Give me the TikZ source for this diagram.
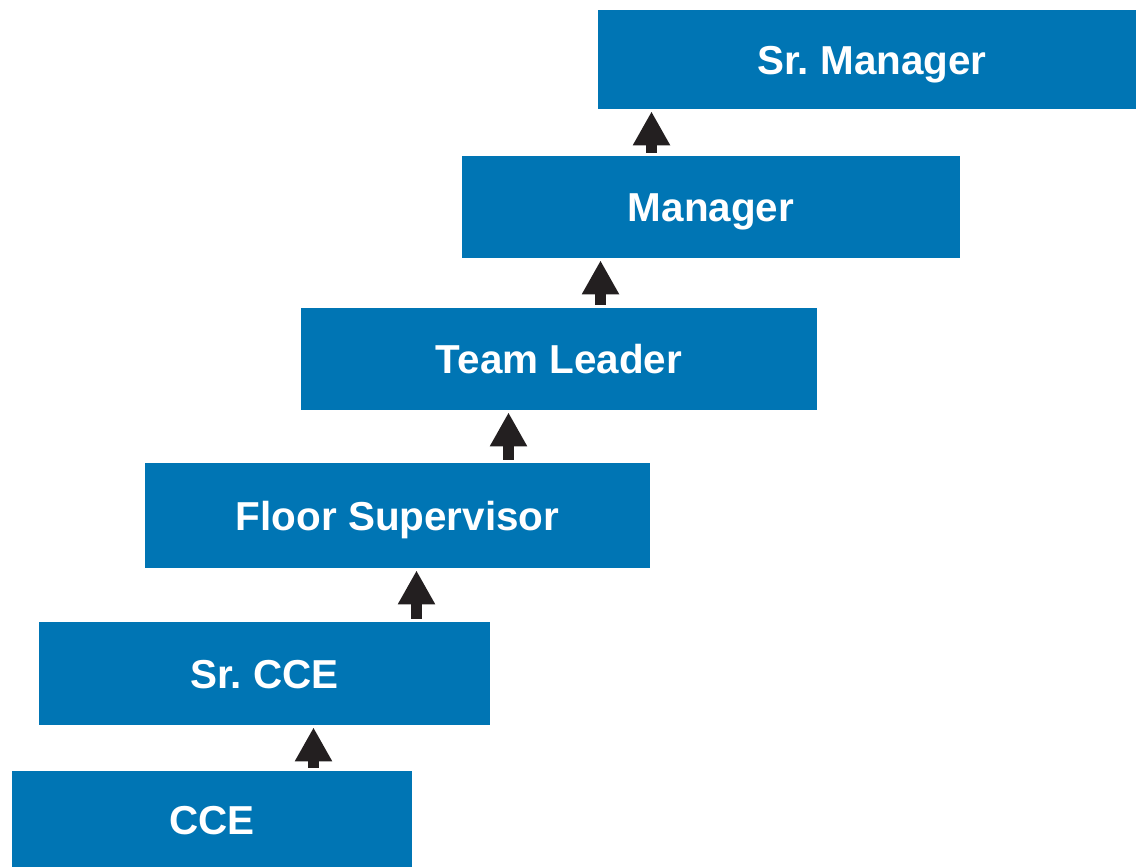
\documentclass[tikz,border=0pt]{standalone}
\usepackage{fontspec}
\setmainfont{Liberation Sans}
\usetikzlibrary{arrows.meta}
\definecolor{rankblue}{RGB}{0,117,180}
\definecolor{rankarrow}{HTML}{231F20}

\begin{document}
\begin{tikzpicture}[x=0.5pt, y=-0.5pt,
    rank/.style={fill=rankblue, text=white, inner sep=0pt,
      text height=14.5pt, text depth=0pt,
      font=\fontsize{20.2pt}{24pt}\selectfont\bfseries},
    rise/.style={rankarrow, line width=5.5pt, shorten <=1.5pt, shorten >=1pt,
      -{Triangle[width=17.5pt, length=17pt]}}]
    \useasboundingbox (0,0) rectangle (1136,867);

    \node[rank, minimum width=200pt, minimum height=49pt]     (cce)     at (212,820)     {CCE};
    \node[rank, minimum width=225.5pt, minimum height=51.5pt] (srcce)   at (264.5,673.5) {Sr.\ CCE};
    \node[rank, minimum width=252.5pt, minimum height=52.5pt] (floor)   at (397.5,515.5) {Floor Supervisor};
    \node[rank, minimum width=258pt, minimum height=51pt]     (lead)    at (559,359)     {Team Leader};
    \node[rank, minimum width=249pt, minimum height=51pt]     (manager) at (711,207)     {Manager};
    \node[rank, minimum width=274pt, minimum height=49.5pt]   (srmgr)   at (872,59.5)    {Sr.\ Manager};

    \coordinate (a1) at (313.5,0);
    \coordinate (a2) at (416.5,0);
    \coordinate (a3) at (508.5,0);
    \coordinate (a4) at (600.5,0);
    \coordinate (a5) at (651.5,0);

    \draw[rise] (cce.north -| a1)     -- (srcce.south -| a1);
    \draw[rise] (srcce.north -| a2)   -- (floor.south -| a2);
    \draw[rise] (floor.north -| a3)   -- (lead.south -| a3);
    \draw[rise] (lead.north -| a4)    -- (manager.south -| a4);
    \draw[rise] (manager.north -| a5) -- (srmgr.south -| a5);
\end{tikzpicture}
\end{document}
